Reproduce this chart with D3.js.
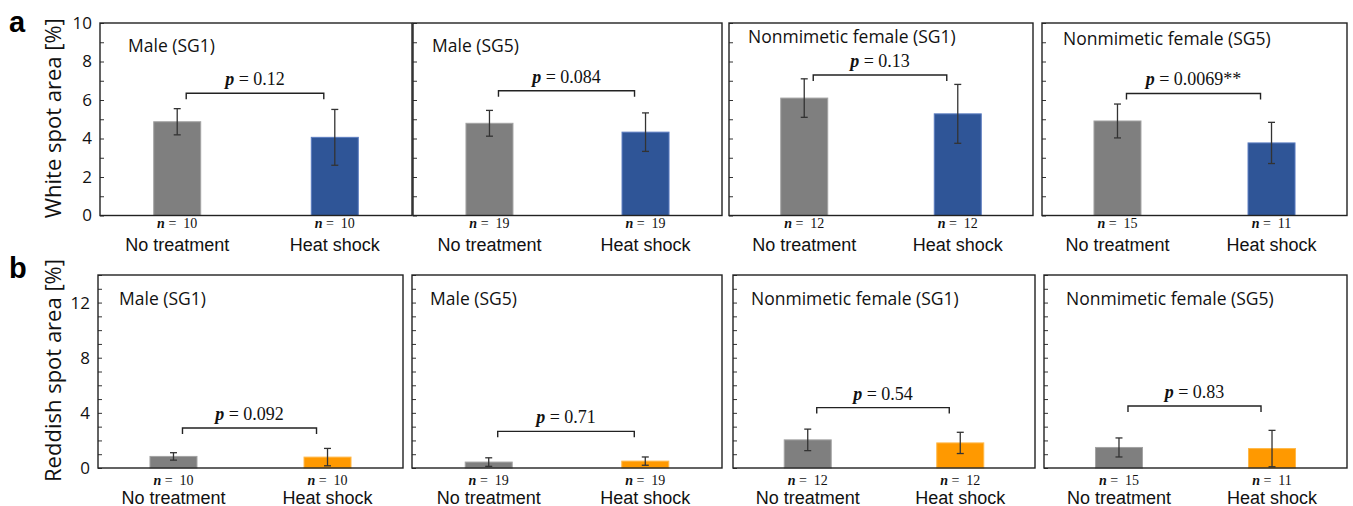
<!DOCTYPE html>
<html>
<head>
<meta charset="utf-8">
<script src="https://cdn.jsdelivr.net/npm/d3@7"></script>
<style>
  html, body { margin: 0; padding: 0; background: #fff; }
  svg { display: block; }
  .pre { white-space: pre; }
</style>
</head>
<body>
<svg id="chart" width="1353" height="506"></svg>
<script>
// ---- data ----
const panelTitles = ["Male (SG1)", "Male (SG5)", "Nonmimetic female (SG1)", "Nonmimetic female (SG5)"];
const categories = ["No treatment", "Heat shock"];
const sampleSizes = [[10, 10], [19, 19], [12, 12], [15, 11]];

// white spot area [%]: mean and error per panel (No treatment, Heat shock)
const whiteMean = [[4.87, 4.06], [4.79, 4.33], [6.10, 5.28], [4.91, 3.77]];
const whiteErr  = [[0.68, 1.45], [0.67, 1.00], [1.00, 1.53], [0.88, 1.07]];
const whiteP = ["0.12", "0.084", "0.13", "0.0069**"];
const whiteBracket = [6.35, 6.48, 7.30, 6.34];
const whiteTicks = [0, 2, 4, 6, 8, 10];

// reddish spot area [%]
const reddishMean = [[0.84, 0.79], [0.43, 0.50], [2.04, 1.82], [1.49, 1.41]];
const reddishErr  = [[0.27, 0.63], [0.31, 0.30], [0.78, 0.77], [0.69, 1.32]];
const reddishP = ["0.092", "0.71", "0.54", "0.83"];
const reddishBracket = [2.90, 2.66, 4.38, 4.50];
const reddishTicks = [0, 4, 8, 12];

// ---- layout ----
const rows = [
  {
    letter: "a", letterY: 32, yLabel: "White spot area [%]",
    mean: whiteMean, err: whiteErr, p: whiteP, bracket: whiteBracket,
    ticks: whiteTicks, max: 10, top: 23, bottom: 215.5,
    lefts: [100, 413, 729, 1042], rights: [412, 722, 1033, 1347],
    titleDx: [28, 19, 19, 21], titleDy: [29, 29, 20, 22],
    nDy: 12.5, catDy: 35.5,
    fill: "#2f5597", edge: "#5b7cc0"
  },
  {
    letter: "b", letterY: 278, yLabel: "Reddish spot area [%]",
    mean: reddishMean, err: reddishErr, p: reddishP, bracket: reddishBracket,
    ticks: reddishTicks, max: 14, top: 275, bottom: 468,
    lefts: [98, 412, 733, 1044], rights: [403, 722, 1035, 1347],
    titleDx: [21, 18, 18, 22], titleDy: [30, 30, 30, 30],
    nDy: 17, catDy: 35.5,
    fill: "#ff9900", edge: "#ffb94a"
  }
];

const svg = d3.select("#chart");
const sans = "'Open Sans', 'Noto Sans', sans-serif";
const arial = "'Liberation Sans', Arial, sans-serif";
const serif = "'Liberation Serif', 'Times New Roman', serif";

rows.forEach(row => {
  const y = d3.scaleLinear().domain([0, row.max]).range([row.bottom, row.top]);

  // row letter
  svg.append("text")
    .attr("x", 9).attr("y", row.letterY)
    .attr("font-family", arial).attr("font-weight", "bold").attr("font-size", 29)
    .text(row.letter);

  // y axis title
  svg.append("text")
    .attr("transform", `translate(61,${(row.top + row.bottom) / 2 - 1}) rotate(-90)`)
    .attr("text-anchor", "middle")
    .attr("font-family", sans).attr("font-size", 22).attr("fill", "#111")
    .text(row.yLabel);

  row.lefts.forEach((left, i) => {
    const right = row.rights[i];
    const w = right - left;
    const g = svg.append("g");

    const x = d3.scalePoint().domain(categories).range([left, right]).padding(0.49);
    const barW = 47;

    // minor + major ticks (inside the frame)
    const yAxis = d3.axisRight(y)
      .tickValues(d3.range(0, row.max + 1, 1))
      .tickSize(4).tickFormat("");
    g.append("g").attr("transform", `translate(${left},0)`).call(yAxis)
      .call(s => s.select(".domain").remove())
      .call(s => s.selectAll("line").attr("stroke", "#333").attr("stroke-width", 1));

    // tick labels only on the first panel of a row
    if (i === 0) {
      const lab = d3.axisLeft(y).tickValues(row.ticks).tickSize(0).tickPadding(8);
      g.append("g").attr("transform", `translate(${left},0)`).call(lab)
        .call(s => s.select(".domain").remove())
        .call(s => s.selectAll("text")
          .attr("font-family", sans).attr("font-size", 17).attr("fill", "#111"));
    }

    // bars
    const data = categories.map((c, k) => ({ c, k, v: row.mean[i][k], e: row.err[i][k], n: sampleSizes[i][k] }));
    g.selectAll("rect.bar").data(data).join("rect")
      .attr("class", "bar")
      .attr("x", d => x(d.c) - barW / 2)
      .attr("y", d => y(d.v))
      .attr("width", barW)
      .attr("height", d => y(0) - y(d.v))
      .attr("fill", d => d.k === 0 ? "#7f7f7f" : row.fill)
      .attr("stroke", d => d.k === 0 ? "#a3a3a3" : row.edge)
      .attr("stroke-width", 1);

    // error bars
    const eb = g.selectAll("g.err").data(data).join("g").attr("class", "err")
      .attr("stroke", "#333").attr("stroke-width", 1.3);
    eb.append("line")
      .attr("x1", d => x(d.c)).attr("x2", d => x(d.c))
      .attr("y1", d => y(d.v + d.e)).attr("y2", d => y(Math.max(0, d.v - d.e)));
    eb.append("line")
      .attr("x1", d => x(d.c) - 3.5).attr("x2", d => x(d.c) + 3.5)
      .attr("y1", d => y(d.v + d.e)).attr("y2", d => y(d.v + d.e));
    eb.append("line")
      .attr("x1", d => x(d.c) - 3.5).attr("x2", d => x(d.c) + 3.5)
      .attr("y1", d => y(Math.max(0, d.v - d.e))).attr("y2", d => y(Math.max(0, d.v - d.e)));

    // significance bracket
    const bx0 = x(categories[0]) + 9, bx1 = x(categories[1]) - 11;
    const by = y(row.bracket[i]);
    g.append("path")
      .attr("d", `M${bx0},${by + 6}V${by}H${bx1}V${by + 6}`)
      .attr("fill", "none").attr("stroke", "#222").attr("stroke-width", 1.4);
    const pt = g.append("text")
      .attr("class", "pre")
      .attr("x", (bx0 + bx1) / 2).attr("y", by - 8)
      .attr("text-anchor", "middle")
      .attr("font-family", serif).attr("font-size", 18).attr("fill", "#111");
    pt.append("tspan").attr("font-style", "italic").attr("font-weight", "bold").text("p");
    pt.append("tspan").text(" = " + row.p[i]);

    // frame
    g.append("rect")
      .attr("x", left).attr("y", row.top)
      .attr("width", w).attr("height", row.bottom - row.top)
      .attr("fill", "none").attr("stroke", "#222").attr("stroke-width", 1.4);

    // panel title
    g.append("text")
      .attr("x", left + row.titleDx[i]).attr("y", row.top + row.titleDy[i])
      .attr("font-family", sans).attr("font-size", 17.5).attr("fill", "#111")
      .text(panelTitles[i]);

    // sample sizes
    const nt = g.selectAll("text.n").data(data).join("text")
      .attr("class", "n pre")
      .attr("x", d => x(d.c)).attr("y", row.bottom + row.nDy)
      .attr("text-anchor", "middle")
      .attr("font-family", serif).attr("font-size", 14).attr("fill", "#111");
    nt.append("tspan").attr("font-style", "italic").attr("font-weight", "bold").text("n");
    nt.append("tspan").text(d => " =  " + d.n);

    // category labels
    g.selectAll("text.cat").data(data).join("text")
      .attr("class", "cat")
      .attr("x", d => x(d.c)).attr("y", row.bottom + row.catDy)
      .attr("text-anchor", "middle")
      .attr("font-family", arial).attr("font-size", 18).attr("fill", "#111")
      .text(d => d.c);
  });
});
</script>
</body>
</html>
